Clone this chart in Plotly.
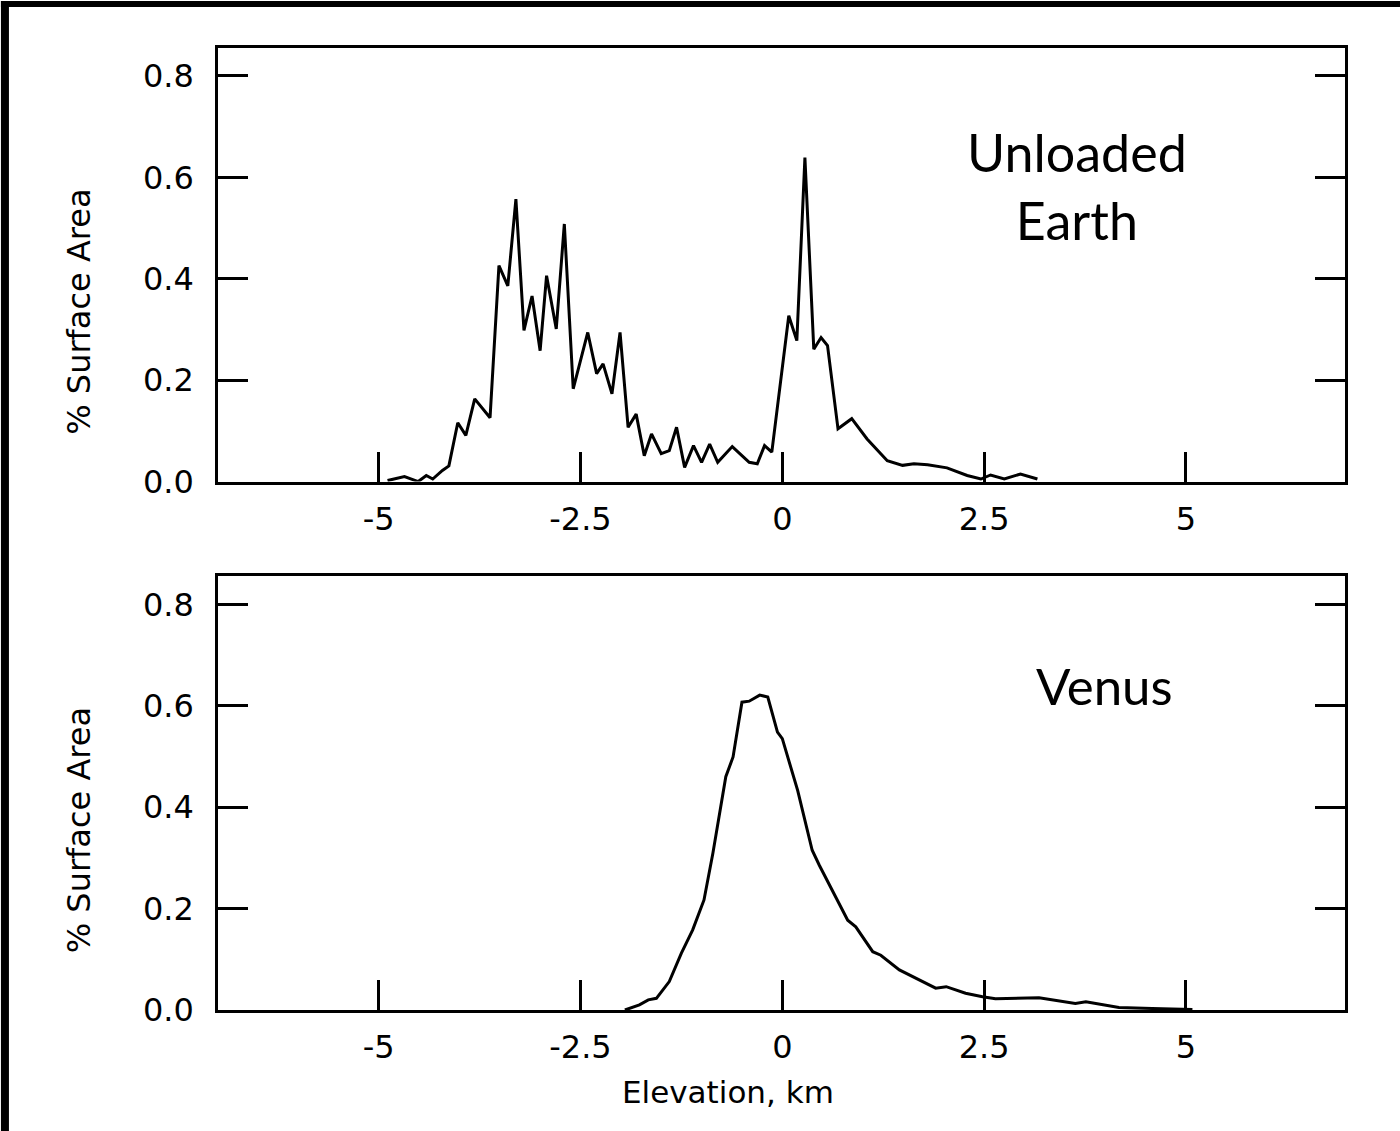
import plotly.graph_objects as go

# ---- data ----
earth_x = [-4.89, -4.68, -4.51, -4.41, -4.33, -4.21, -4.13, -4.02, -3.92, -3.81, -3.62, -3.51, -3.40,
           -3.30, -3.20, -3.10, -3.00, -2.92, -2.80, -2.70, -2.59, -2.41, -2.30, -2.22, -2.11, -2.01,
           -1.91, -1.81, -1.71, -1.62, -1.50, -1.40, -1.31, -1.21, -1.10, -1.00, -0.90, -0.80, -0.62,
           -0.41, -0.31, -0.22, -0.13, 0.08, 0.18, 0.28, 0.39, 0.48, 0.56, 0.69, 0.86, 1.05, 1.30,
           1.49, 1.63, 1.80, 2.04, 2.29, 2.46, 2.58, 2.75, 2.95, 3.16]
earth_y = [0.002, 0.010, 0.000, 0.012, 0.005, 0.022, 0.031, 0.116, 0.091, 0.163, 0.126, 0.426, 0.386,
           0.557, 0.298, 0.366, 0.258, 0.406, 0.301, 0.508, 0.183, 0.294, 0.213, 0.232, 0.173, 0.294,
           0.107, 0.133, 0.051, 0.094, 0.055, 0.061, 0.107, 0.028, 0.071, 0.038, 0.074, 0.038, 0.069,
           0.038, 0.035, 0.071, 0.058, 0.327, 0.278, 0.639, 0.261, 0.284, 0.268, 0.104, 0.124, 0.084, 0.041,
           0.032, 0.035, 0.033, 0.027, 0.012, 0.005, 0.013, 0.005, 0.015, 0.005]

venus_x = [-1.95, -1.77, -1.66, -1.56, -1.40, -1.25, -1.11, -0.97, -0.86, -0.70, -0.61, -0.50, -0.41,
           -0.28, -0.18, -0.06, 0.00, 0.19, 0.37, 0.46, 0.81, 0.91, 1.12, 1.22, 1.45, 1.61, 1.90, 2.03,
           2.27, 2.48, 2.64, 3.18, 3.34, 3.63, 3.76, 3.96, 4.17, 4.58, 5.08]
venus_y = [0.000, 0.010, 0.020, 0.023, 0.056, 0.112, 0.158, 0.217, 0.309, 0.460, 0.499, 0.607, 0.609,
           0.621, 0.617, 0.548, 0.535, 0.433, 0.315, 0.285, 0.177, 0.164, 0.115, 0.108, 0.079, 0.066, 0.043, 0.046,
           0.033, 0.026, 0.022, 0.024, 0.020, 0.013, 0.016, 0.010, 0.005, 0.003, 0.001]

x_ticks = [-5, -2.5, 0, 2.5, 5]
x_labels = ["-5", "-2.5", "0", "2.5", "5"]
y_ticks = [0.0, 0.2, 0.4, 0.6, 0.8]
y_labels = ["0.0", "0.2", "0.4", "0.6", "0.8"]

TICKFONT = dict(family="DejaVu Sans", size=32, color="black")

fig = go.Figure()
fig.add_trace(go.Scatter(x=earth_x, y=earth_y, mode="lines", line=dict(color="black", width=3),
                         xaxis="x", yaxis="y", showlegend=False))
fig.add_trace(go.Scatter(x=venus_x, y=venus_y, mode="lines", line=dict(color="black", width=3),
                         xaxis="x2", yaxis="y2", showlegend=False))

xcommon = dict(range=[-6.99, 6.97], tickvals=x_ticks, ticktext=x_labels, ticks="inside", ticklen=30,
               tickwidth=2.5, tickcolor="black", showline=True, linecolor="black", linewidth=2.5,
               mirror=True, showgrid=False, zeroline=False, tickfont=TICKFONT, ticklabelstandoff=7)
ycommon = dict(range=[0, 0.855], tickvals=y_ticks, ticktext=y_labels, ticks="inside", ticklen=30,
               tickwidth=2.5, tickcolor="black", showline=True, linecolor="black", linewidth=2.5,
               mirror="allticks", showgrid=False, zeroline=False, tickfont=TICKFONT, ticklabelstandoff=15)

fig.update_layout(
    width=1400, height=1131,
    margin=dict(l=218, r=55, t=48, b=121),
    paper_bgcolor="white", plot_bgcolor="white",
    xaxis=dict(anchor="y", domain=[0, 1], **xcommon),
    yaxis=dict(anchor="x", domain=[0.5493, 1], **ycommon),
    xaxis2=dict(anchor="y2", domain=[0, 1], **xcommon),
    yaxis2=dict(anchor="x2", domain=[0, 0.4507], **ycommon),
)

ann = [
    dict(text="% Surface Area", x=-0.1233, y=0.7259, textangle=-90,
         font=dict(family="DejaVu Sans", size=32, color="black")),
    dict(text="% Surface Area", x=-0.1233, y=0.1869, textangle=-90,
         font=dict(family="DejaVu Sans", size=32, color="black")),
    dict(text="Elevation, km", x=0.4525, y=-0.0852,
         font=dict(family="DejaVu Sans", size=31, color="black")),
    dict(text="Unloaded<br>Earth", x=0.7622, y=0.857,
         font=dict(family="Lato", size=52, color="black")),
    dict(text="Venus", x=0.787, y=0.3375,
         font=dict(family="Lato", size=51, color="black")),
]
for a in ann:
    a.update(xref="paper", yref="paper", showarrow=False, xanchor="center", yanchor="middle")
    fig.add_annotation(**a)

# black border of the scanned frame
fig.add_shape(type="rect", xref="paper", yref="paper", x0=-0.1926, x1=1.0497, y0=1.0426, y1=1.0488,
              fillcolor="black", line=dict(width=0), layer="above")
fig.add_shape(type="rect", xref="paper", yref="paper", x0=-0.1926, x1=-0.1855, y0=-0.1257, y1=1.0488,
              fillcolor="black", line=dict(width=0), layer="above")

fig.write_html("out.html", config={"displayModeBar": False},
               post_script="document.body.style.margin='0px';document.body.style.padding='0px';")
